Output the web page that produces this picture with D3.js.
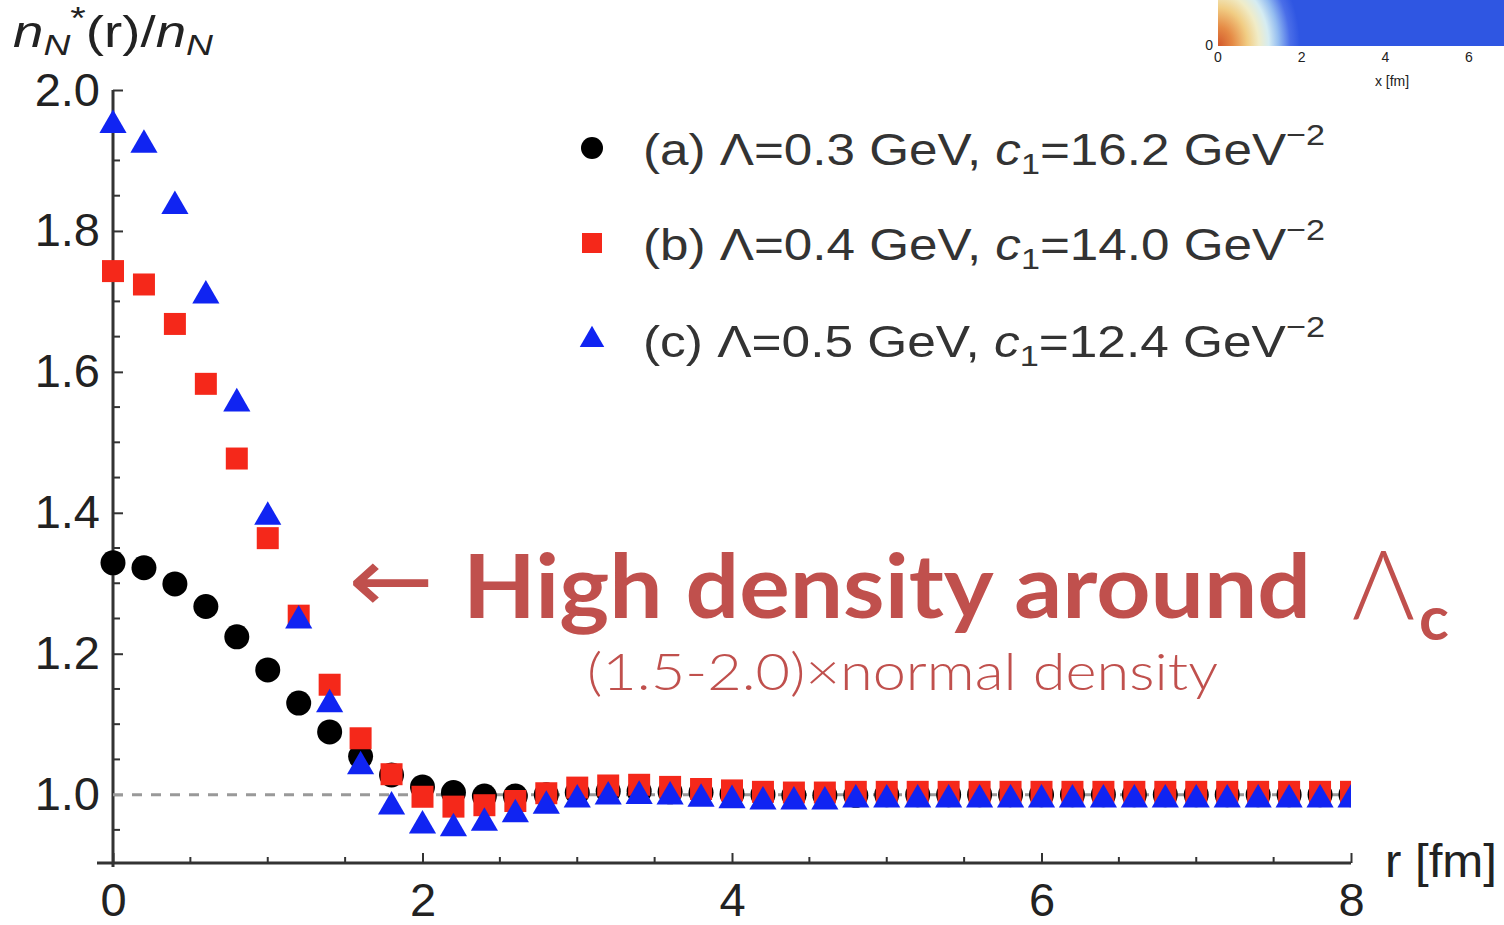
<!DOCTYPE html>
<html>
<head>
<meta charset="utf-8">
<script src="https://cdn.jsdelivr.net/npm/d3@7"></script>
<style>
  body { margin: 0; background: #fff; }
  svg { display: block; }
</style>
</head>
<body>
<div id="chart"></div>
<script>
// radius r [fm], sampled every 0.2 fm
var rValues = d3.range(0, 41).map(function(i) { return +(i * 0.2).toFixed(1); });

// (a) Lambda=0.3 GeV
var seriesA = [1.329, 1.322, 1.299, 1.267, 1.224, 1.177, 1.130, 1.089, 1.054, 1.028,
               1.011, 1.003, 0.998, 0.998, 1.000, 1.003, 1.005, 1.005, 1.004, 1.003,
               1.001, 1.000, 0.999, 0.999, 0.999, 1.000, 1.000, 1.000, 1.000, 1.000,
               1.000, 1.000, 1.000, 1.000, 1.000, 1.000, 1.000, 1.000, 1.000, 1.000, 1.000];
// (b) Lambda=0.4 GeV
var seriesB = [1.743, 1.724, 1.668, 1.583, 1.477, 1.364, 1.254, 1.156, 1.080, 1.029,
               0.997, 0.983, 0.985, 0.991, 1.002, 1.010, 1.013, 1.014, 1.011, 1.008,
               1.006, 1.004, 1.003, 1.003, 1.004, 1.004, 1.004, 1.004, 1.004, 1.004,
               1.004, 1.004, 1.004, 1.004, 1.004, 1.004, 1.004, 1.004, 1.004, 1.004, 1.004];
// (c) Lambda=0.5 GeV
var seriesC = [1.950, 1.922, 1.835, 1.708, 1.555, 1.394, 1.247, 1.128, 1.040, 0.983,
               0.956, 0.952, 0.960, 0.972, 0.984, 0.993, 0.997, 0.998, 0.997, 0.994,
               0.992, 0.990, 0.990, 0.990, 0.993, 0.993, 0.993, 0.993, 0.993, 0.993,
               0.993, 0.993, 0.993, 0.993, 0.993, 0.993, 0.993, 0.993, 0.993, 0.993, 0.993];

var xTicks = [0, 2, 4, 6, 8];
var yTicks = [1.0, 1.2, 1.4, 1.6, 1.8, 2.0];
var insetTicks = [0, 2, 4, 6];

var legendLabels = [
  { tag: "(a) Λ=0.3 GeV, ", num: "16.2" },
  { tag: "(b) Λ=0.4 GeV, ", num: "14.0" },
  { tag: "(c) Λ=0.5 GeV, ", num: "12.4" }
];

var svgWidth = 1504, svgHeight = 925;
var svg = d3.select("#chart").append("svg")
  .attr("width", svgWidth)
  .attr("height", svgHeight);

var x = d3.scaleLinear().domain([0, 8]).range([113, 1351]);
var y = d3.scaleLinear().domain([0.903, 2.0]).range([863, 90]);

var axisColor = "#333";
var labelFont = "'Liberation Sans', Arial, Helvetica, sans-serif";

// ---- inset heatmap crop (top right) ----
var defs = svg.append("defs");
var grad = defs.append("radialGradient")
  .attr("id", "heat")
  .attr("gradientUnits", "userSpaceOnUse")
  .attr("cx", 1218).attr("cy", 46).attr("r", 82)
  .attr("gradientTransform", "translate(1218,46) scale(1,1.3) translate(-1218,-46)");
[[0, "#d2562a"], [0.18, "#e58a45"], [0.36, "#f1cd84"], [0.5, "#f0ecc8"],
 [0.62, "#d5ecf2"], [0.74, "#94bcf0"], [0.88, "#4a6ee8"], [1, "#2f56e2"]]
  .forEach(function(s) {
    grad.append("stop").attr("offset", s[0]).attr("stop-color", s[1]);
  });

svg.append("rect")
  .attr("x", 1218).attr("y", 0).attr("width", 286).attr("height", 46)
  .attr("fill", "#2f56e2");
svg.append("rect")
  .attr("x", 1218).attr("y", 0).attr("width", 286).attr("height", 46)
  .attr("fill", "url(#heat)");

var xi = d3.scaleLinear().domain([0, 6]).range([1218, 1469]);
svg.append("g").selectAll("text")
  .data(insetTicks)
  .enter().append("text")
  .attr("x", d => xi(d))
  .attr("y", 62)
  .attr("text-anchor", "middle")
  .attr("font-family", labelFont)
  .attr("font-size", 14)
  .attr("fill", "#222")
  .text(d => d);
svg.append("text")
  .attr("x", 1213).attr("y", 50)
  .attr("text-anchor", "end")
  .attr("font-family", labelFont)
  .attr("font-size", 14)
  .attr("fill", "#222")
  .text("0");
svg.append("text")
  .attr("x", 1392).attr("y", 86)
  .attr("text-anchor", "middle")
  .attr("font-family", labelFont)
  .attr("font-size", 14)
  .attr("fill", "#222")
  .text("x [fm]");

// ---- axes ----
// minor ticks
var xMinor = d3.range(0, 8.01, 0.5).filter(d => xTicks.indexOf(d) < 0);
var yMinor = d3.range(0.95, 2.0, 0.05).filter(function(d) {
  return !yTicks.some(t => Math.abs(t - d) < 1e-6);
});

var xAxis = d3.axisBottom(x).tickValues(xTicks).tickSizeInner(-10).tickSizeOuter(0).tickPadding(20);
var yAxis = d3.axisLeft(y).tickValues(yTicks).tickSizeInner(-10).tickSizeOuter(0).tickPadding(13)
  .tickFormat(d3.format(".1f"));

var gx = svg.append("g")
  .attr("transform", "translate(0,863)")
  .call(xAxis);
var gy = svg.append("g")
  .attr("transform", "translate(113,0)")
  .call(yAxis);

[gx, gy].forEach(function(g) {
  g.select(".domain").remove();
  g.selectAll(".tick line").attr("stroke", axisColor).attr("stroke-width", 2);
  g.selectAll(".tick text")
    .attr("font-family", labelFont)
    .attr("font-size", 47)
    .attr("fill", "#222");
});

svg.append("g").selectAll("line")
  .data(xMinor)
  .enter().append("line")
  .attr("x1", d => x(d)).attr("x2", d => x(d))
  .attr("y1", 863).attr("y2", 857)
  .attr("stroke", axisColor).attr("stroke-width", 2);

svg.append("g").selectAll("line")
  .data(yMinor)
  .enter().append("line")
  .attr("x1", 113).attr("x2", 120)
  .attr("y1", d => y(d)).attr("y2", d => y(d))
  .attr("stroke", axisColor).attr("stroke-width", 2);

// axis lines
svg.append("line")
  .attr("x1", 97).attr("x2", x(8))
  .attr("y1", 863).attr("y2", 863)
  .attr("stroke", axisColor).attr("stroke-width", 3);
svg.append("line")
  .attr("x1", 113).attr("x2", 113)
  .attr("y1", y(2.0)).attr("y2", 867)
  .attr("stroke", axisColor).attr("stroke-width", 3);

// reference line at 1.0
svg.append("line")
  .attr("x1", x(0)).attr("x2", x(8))
  .attr("y1", y(1.0)).attr("y2", y(1.0))
  .attr("stroke", "#999")
  .attr("stroke-width", 3)
  .attr("stroke-dasharray", "10,9");

// axis titles
var yTitle = svg.append("text")
  .attr("x", 13).attr("y", 47)
  .attr("font-family", labelFont)
  .attr("font-size", 44)
  .attr("fill", "#222")
  .attr("textLength", 200)
  .attr("lengthAdjust", "spacingAndGlyphs");
yTitle.append("tspan").attr("font-style", "italic").text("n");
yTitle.append("tspan").attr("font-style", "italic").attr("font-size", 30).attr("dy", 8).text("N");
yTitle.append("tspan").attr("font-size", 32).attr("dy", -26).text("*");
yTitle.append("tspan").attr("dy", 18).text("(r)/");
yTitle.append("tspan").attr("font-style", "italic").text("n");
yTitle.append("tspan").attr("font-style", "italic").attr("font-size", 30).attr("dy", 8).text("N");

svg.append("text")
  .attr("x", 1385).attr("y", 877)
  .attr("font-family", labelFont)
  .attr("font-size", 46)
  .attr("fill", "#222")
  .attr("textLength", 112)
  .attr("lengthAdjust", "spacingAndGlyphs")
  .text("r [fm]");

// ---- data markers ----
defs.append("clipPath").attr("id", "plotClip")
  .append("rect")
  .attr("x", 0).attr("y", 0)
  .attr("width", x(8)).attr("height", svgHeight);

var plot = svg.append("g").attr("clip-path", "url(#plotClip)");

function pts(vals) {
  return rValues.map(function(r, i) { return { r: r, v: vals[i] }; });
}

var circleSym = d3.symbol().type(d3.symbolCircle).size(Math.PI * 12.5 * 12.5);
var squareSym = d3.symbol().type(d3.symbolSquare).size(22 * 22);
var triSym = d3.symbol().type(d3.symbolTriangle).size(320);

var markerSeries = [
  { vals: seriesA, sym: circleSym, color: "#000000" },
  { vals: seriesB, sym: squareSym, color: "#f5281a" },
  { vals: seriesC, sym: triSym, color: "#1024f2" }
];

markerSeries.forEach(function(s) {
  plot.append("g").selectAll("path")
    .data(pts(s.vals))
    .enter().append("path")
    .attr("d", s.sym)
    .attr("transform", d => "translate(" + x(d.r) + "," + y(d.v) + ")")
    .attr("fill", s.color);
});

// ---- legend ----
var legendY = [148, 243, 340];
markerSeries.forEach(function(s, i) {
  svg.append("path")
    .attr("d", i === 0 ? d3.symbol().type(d3.symbolCircle).size(Math.PI * 11 * 11)()
              : i === 1 ? d3.symbol().type(d3.symbolSquare).size(20 * 20)()
              : d3.symbol().type(d3.symbolTriangle).size(260)())
    .attr("transform", "translate(592," + legendY[i] + ")")
    .attr("fill", s.color);

  var t = svg.append("text")
    .attr("x", 643).attr("y", legendY[i] + 17)
    .attr("font-family", labelFont)
    .attr("font-size", 45)
    .attr("fill", "#333")
    .attr("textLength", 682)
    .attr("lengthAdjust", "spacingAndGlyphs");
  t.append("tspan").text(legendLabels[i].tag);
  t.append("tspan").attr("font-style", "italic").text("c");
  t.append("tspan").attr("font-size", 30).attr("dy", 9).text("1");
  t.append("tspan").attr("dy", -9).text("=" + legendLabels[i].num + " GeV");
  t.append("tspan").attr("font-size", 30).attr("dy", -20).text("−2");
});

// ---- annotation ----
var noteColor = "#c0504d";
svg.append("text")
  .attr("x", 348).attr("y", 612)
  .attr("font-family", "'DejaVu Sans', sans-serif")
  .attr("font-size", 92)
  .attr("fill", noteColor)
  .attr("textLength", 86)
  .attr("lengthAdjust", "spacingAndGlyphs")
  .text("←");
svg.append("text")
  .attr("x", 463).attr("y", 618)
  .attr("font-family", "Lato, 'Open Sans', sans-serif")
  .attr("font-weight", 700)
  .attr("font-size", 88)
  .attr("fill", noteColor)
  .attr("textLength", 848)
  .attr("lengthAdjust", "spacingAndGlyphs")
  .text("High density around");
var lam = svg.append("text")
  .attr("x", 1352).attr("y", 620)
  .attr("font-family", "Lato, 'Open Sans', sans-serif")
  .attr("font-size", 96)
  .attr("font-weight", 300)
  .attr("fill", noteColor);
lam.append("tspan").text("Λ");
lam.append("tspan")
  .attr("font-size", 62)
  .attr("font-weight", 700)
  .attr("dy", 20)
  .attr("dx", 4)
  .text("c");

svg.append("text")
  .attr("x", 587).attr("y", 690)
  .attr("font-family", "Lato, 'Open Sans', sans-serif")
  .attr("font-weight", 300)
  .attr("font-size", 52)
  .attr("fill", noteColor)
  .attr("textLength", 631)
  .attr("lengthAdjust", "spacingAndGlyphs")
  .text("(1.5-2.0)×normal density");
</script>
</body>
</html>
